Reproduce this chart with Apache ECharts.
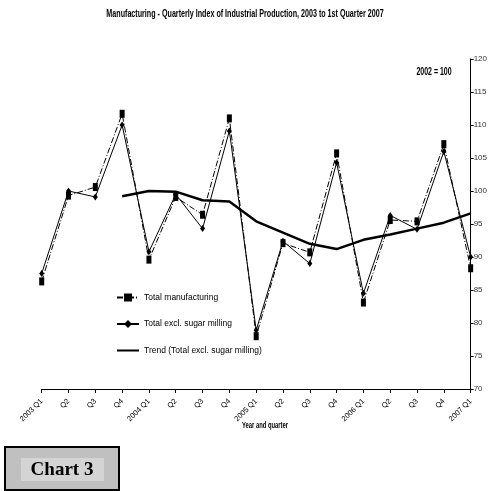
<!DOCTYPE html>
<html><head><meta charset="utf-8">
<script src="https://cdn.jsdelivr.net/npm/echarts@6/dist/echarts.min.js"></script>
<style>html,body{margin:0;padding:0;background:#fff}#c{width:490px;height:491px}</style>
</head><body><div id="c"></div>
<script>
const categories = ['2003 Q1','Q2','Q3','Q4','2004 Q1','Q2','Q3','Q4','2005 Q1','Q2','Q3','Q4','2006 Q1','Q2','Q3','Q4','2007 Q1'];
const totalManufacturing = [86.3, 99.3, 100.6, 111.7, 89.6, 99.1, 96.4, 111.0, 78.0, 92.1, 90.7, 105.7, 83.1, 95.6, 95.4, 107.1, 88.3];
const totalExclSugar = [87.5, 100.0, 99.1, 110.0, 90.8, 99.5, 94.3, 109.1, 78.9, 92.4, 89.0, 104.3, 84.5, 96.3, 94.2, 106.0, 90.0];
const trendExclSugar = [null, null, null, 99.2, 100.0, 99.9, 98.6, 98.4, 95.4, 93.7, 92.0, 91.2, 92.6, 93.4, 94.3, 95.2, 96.6];
const yTicks = [70, 75, 80, 85, 90, 95, 100, 105, 110, 115, 120];
const seriesNames = ['Total manufacturing', 'Total excl. sugar milling', 'Trend (Total excl. sugar milling)'];

const SANS = '"Liberation Sans Narrow", "Arial Narrow", "Liberation Sans", Arial, sans-serif';
const chart = echarts.init(document.getElementById('c'), null, {renderer: 'canvas'});
chart.setOption({
  animation: false,
  backgroundColor: '#fff',
  grid: {left: 41.7, right: 15.7, top: 59, bottom: 102},
  legend: {
    orient: 'vertical', left: 111, top: 288, itemGap: 17.5, itemWidth: 22, itemHeight: 10,
    textStyle: {fontFamily: SANS, fontSize: 8.5, color: '#000'},
    data: [
      {name: seriesNames[0]},
      {name: seriesNames[1]},
      {name: seriesNames[2], itemStyle: {opacity: 0}}
    ]
  },
  xAxis: {
    type: 'category', data: categories, boundaryGap: false,
    axisLine: {lineStyle: {color: '#000', width: 1}},
    axisTick: {alignWithLabel: true, length: 4, lineStyle: {color: '#000'}},
    axisLabel: {rotate: 45, interval: 0, margin: 11, fontFamily: SANS, fontSize: 7.5, color: '#000'}
  },
  yAxis: {
    type: 'value', position: 'right', min: yTicks[0], max: yTicks[yTicks.length-1], interval: 5,
    splitLine: {show: false},
    axisLine: {show: true, lineStyle: {color: '#000', width: 1}},
    axisTick: {show: true, length: 3, lineStyle: {color: '#000'}},
    axisLabel: {margin: 3, fontFamily: SANS, fontSize: 8, color: '#333'}
  },
  graphic: [
    {type: 'text', x: 245, y: 14, scaleX: 0.65,
     style: {text: 'Manufacturing - Quarterly Index of Industrial Production, 2003 to 1st Quarter 2007',
             font: 'bold 11px ' + SANS, fill: '#000', align: 'center', verticalAlign: 'middle'}},
    {type: 'text', x: 434, y: 72, scaleX: 0.7,
     style: {text: '2002 = 100', font: 'bold 10px ' + SANS, fill: '#000', align: 'center', verticalAlign: 'middle'}},
    {type: 'text', x: 265, y: 426, scaleX: 0.65,
     style: {text: 'Year and quarter', font: 'bold 9px ' + SANS, fill: '#000', align: 'center', verticalAlign: 'middle'}},
    {type: 'rect', shape: {x: 5, y: 447, width: 114, height: 43}, style: {fill: '#c0c0c0', stroke: '#000', lineWidth: 2}},
    {type: 'rect', shape: {x: 21, y: 458, width: 83, height: 23}, style: {fill: '#d4d4d4'}},
    {type: 'text', x: 62, y: 470, style: {text: 'Chart 3', font: 'bold 19px "Liberation Serif", "Times New Roman", serif', fill: '#000', align: 'center', verticalAlign: 'middle'}}
  ],
  series: [
    {name: seriesNames[0], type: 'line', data: totalManufacturing,
     symbol: 'rect', symbolSize: [5, 8],
     itemStyle: {color: '#000'},
     lineStyle: {color: '#000', width: 1, type: [6, 2, 1, 2]}},
    {name: seriesNames[1], type: 'line', data: totalExclSugar,
     symbol: 'diamond', symbolSize: [5, 7],
     itemStyle: {color: '#000'},
     lineStyle: {color: '#000', width: 1}},
    {name: seriesNames[2], type: 'line', data: trendExclSugar,
     symbol: 'none', connectNulls: false,
     itemStyle: {color: '#000'},
     lineStyle: {color: '#000', width: 2.5}}
  ]
});
</script></body></html>
